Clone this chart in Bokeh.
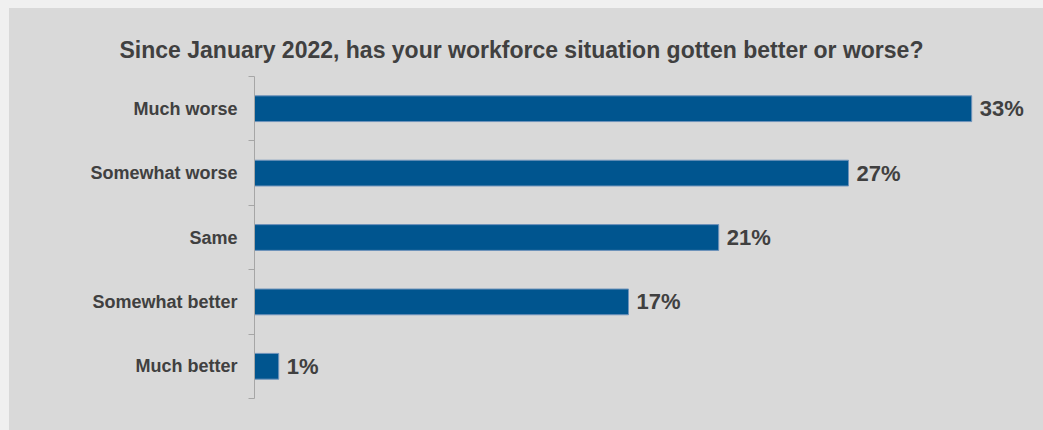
from bokeh.plotting import figure
from bokeh.models import (ColumnDataSource, FactorRange, Range1d, LinearAxis,
                          CategoricalAxis, FixedTicker, Title, Spacer)
from bokeh.layouts import column, row
from bokeh.core.properties import value
from bokeh.embed import file_html
from bokeh.resources import INLINE

# ---- data ----
categories = ["Much worse", "Somewhat worse", "Same", "Somewhat better", "Much better"]
shares = [32.6, 27.0, 21.1, 17.0, 1.1]
share_labels = ["33%", "27%", "21%", "17%", "1%"]
title_text = "Since January 2022, has your workforce situation gotten better or worse?"

BG = "#d9d9d9"
PAGE = "#f0f0f0"
TXT = "#404040"
BAR = "#00558f"
FONT = "Liberation Sans"

src = ColumnDataSource(dict(cat=categories, val=shares, lab=share_labels))

p = figure(width=1034, height=422, output_backend="svg", toolbar_location=None,
           y_range=FactorRange(*reversed(categories)), x_range=Range1d(0, 35),
           x_axis_location=None, y_axis_location=None,
           min_border_left=245, min_border_right=19,
           min_border_top=68, min_border_bottom=32,
           styles={"background-color": BG})
p.background_fill_alpha = 0
p.border_fill_alpha = 0
p.outline_line_color = None
p.xgrid.visible = False
p.ygrid.visible = False

p.hbar(y="cat", right="val", left=0, height=0.40, source=src,
       fill_color=BAR, line_color="#6f93bb", line_width=1)
p.text(x="val", y="cat", text="lab", source=src, x_offset=8,
       text_baseline="middle", text_align="left", text_color=TXT,
       text_font=value(FONT), text_font_style="bold", text_font_size="22px")

# axis with ticks on the category boundaries (nearest to the frame);
# boundaries are the synthetic positions 0..n of the factor range
tick_axis = LinearAxis(ticker=FixedTicker(ticks=list(range(len(categories) + 1))),
                       axis_line_color="#a6a6a6", axis_line_width=1,
                       major_tick_line_color="#a6a6a6", major_tick_out=6, major_tick_in=0,
                       minor_tick_line_color=None, major_label_text_font_size="1px",
                       major_label_text_alpha=0, major_label_standoff=0)
# category label axis
cat_axis = CategoricalAxis(axis_line_color=None, major_tick_line_color=None,
                           minor_tick_line_color=None, major_label_standoff=5,
                           major_label_text_font=FONT, major_label_text_font_style="bold",
                           major_label_text_font_size="18px", major_label_text_color=TXT)
p.add_layout(tick_axis, "left")
p.add_layout(cat_axis, "left")

p.add_layout(Title(text=title_text, align="left", offset=-135, standoff=27,
                   text_font=FONT, text_font_style="bold", text_font_size="23px",
                   text_color=TXT), "above")

layout = column(Spacer(width=1043, height=8),
                row(Spacer(width=9, height=422), p),
                styles={"background-color": PAGE})

open("out.html", "w").write(file_html(layout, INLINE))
